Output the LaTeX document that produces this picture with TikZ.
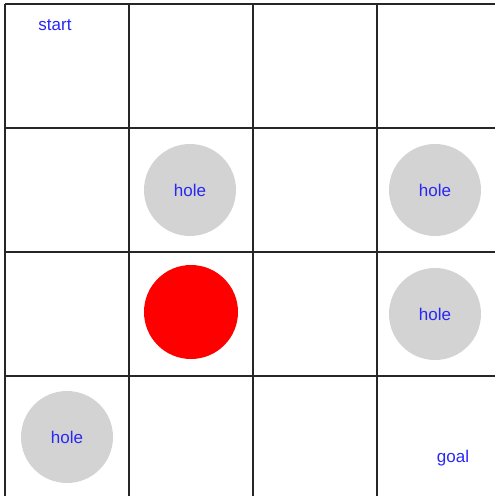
\documentclass[tikz,border=0pt]{standalone}
\usepackage{fontspec}
\setmainfont{Liberation Sans}
\usetikzlibrary{positioning}
\definecolor{holegray}{RGB}{211,211,211}
\definecolor{lblblue}{RGB}{40,40,245}
\tikzset{
  hole/.style={circle,fill=holegray,minimum size=92pt,inner sep=0pt,text=lblblue,font=\fontsize{17}{19}\selectfont},
  lbl/.style={text=lblblue,font=\fontsize{17}{19}\selectfont},
}

\begin{document}
\begin{tikzpicture}[x=1pt,y=-1pt]
    \useasboundingbox (0,0) rectangle (495,496);
    \clip (0,0) rectangle (495,496);
    \fill[white] (0,0) rectangle (495,496);

    \foreach \i in {0,...,4} {
      \draw[line width=2pt,black!85] (5+124*\i,4) -- (5+124*\i,500);
      \draw[line width=2pt,black!85] (5,4+124*\i) -- (501,4+124*\i);
    }

    \node[hole] (h1) at (190,190) {hole};
    \node[hole] (h2) at (435,190) {hole};
    \node[hole] (h3) at (435,314) {hole};
    \node[hole] (h4) at (67,437) {hole};
    \node[circle,fill=red,minimum size=94pt,inner sep=0pt] (agent) at (191,312) {};

    \node[lbl] (start) at (55,25) {start};
    \node[lbl] (goal) at (453,458) {goal};
  \end{tikzpicture}
\end{document}
